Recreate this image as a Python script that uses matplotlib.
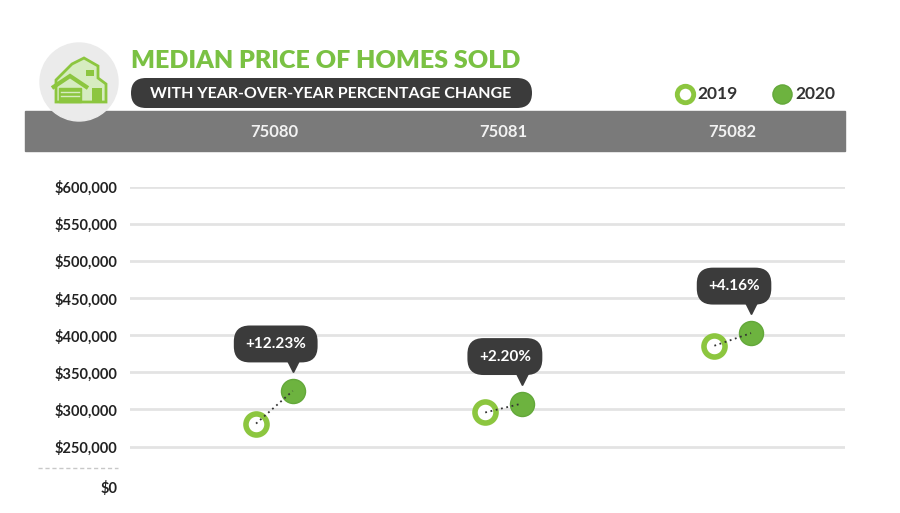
import matplotlib
matplotlib.use('Agg')
import matplotlib.pyplot as plt
import matplotlib.patches as mpatches
import matplotlib.transforms as mtrans
import numpy as np

plt.rcParams['font.family'] = ['Lato', 'DejaVu Sans']

# data
zips = ['75080', '75081', '75082']
price_2019 = [281000, 296000, 386000]
price_2020 = [325000, 308000, 403000]
changes = ['+12.23%', '+2.20%', '+4.16%']
yticks = [0, 250000, 300000, 350000, 400000, 450000, 500000, 550000, 600000]
years = ['2019', '2020']

green_title = '#7ac143'
ring_green = '#8cc63f'
fill_green = '#6db33f'
dark = '#3b3b3b'

# broken axis: everything under $250,000 squeezed
def fwd(v):
    v = np.asarray(v, dtype=float)
    return np.where(v >= 250000, v, 250000 - (250000 - v) * 0.218)

def inv(t):
    t = np.asarray(t, dtype=float)
    return np.where(t >= 250000, t, 250000 - (250000 - t) / 0.218)

fig = plt.figure(figsize=(9, 5.13), dpi=100)

# pixel overlay for header decorations
bg = fig.add_axes([0, 0, 1, 1])
bg.set_xlim(0, 900)
bg.set_ylim(513, 0)
bg.axis('off')

bg.add_patch(mpatches.Rectangle((25, 111), 820, 40, color='#7a7a7a', zorder=1))
bg.add_patch(mpatches.Circle((79, 82), 39, color='#ebebeb', zorder=2))
# little house icon
roof = [(56, 80), (72, 64), (84, 58), (98, 66), (98, 78), (106, 84), (106, 102), (56, 102)]
bg.add_patch(mpatches.Polygon(roof, closed=True, fc='#d6ecc0', ec='#8cc63f', lw=2, zorder=3))
bg.add_patch(mpatches.Polygon([(52, 88), (70, 76), (88, 88)], closed=False, fill=False,
                              ec='#8cc63f', lw=3, zorder=4))
bg.add_patch(mpatches.Rectangle((59, 88), 22, 14, fc='#8cc63f', ec='#8cc63f', zorder=4))
for yy in (92, 96):
    bg.plot([61, 79], [yy, yy], color='#d6ecc0', lw=1, zorder=5)
bg.add_patch(mpatches.Rectangle((86, 70), 8, 6, fc='#8cc63f', zorder=4))
bg.add_patch(mpatches.Rectangle((92, 88), 10, 14, fc='#8cc63f', zorder=4))

bg.text(131, 61, 'MEDIAN PRICE OF HOMES SOLD', color=green_title, fontsize=18,
        fontweight='heavy', va='center', ha='left', zorder=5)
bg.add_patch(mpatches.FancyBboxPatch((131, 78), 401, 30, boxstyle='round,pad=0,rounding_size=15',
                                     fc=dark, ec='none', zorder=4))
bg.text(331, 93.5, 'WITH YEAR-OVER-YEAR PERCENTAGE CHANGE', color='white', fontsize=11.5,
        fontweight='bold', va='center', ha='center', zorder=5)

# legend
bg.scatter([685], [94], s=140, facecolor='white', edgecolor=ring_green, linewidth=3.5, zorder=5)
bg.text(697, 94, years[0], fontsize=12.5, color='#333333', va='center', ha='left', fontweight='bold')
bg.scatter([782], [94], s=190, facecolor=fill_green, edgecolor='#63a83a', linewidth=1, zorder=5)
bg.text(795, 94, years[1], fontsize=12.5, color='#333333', va='center', ha='left', fontweight='bold')

# main chart
ax = fig.add_axes([130 / 900, 26 / 513, 715 / 900, 300 / 513])
ax.set_facecolor('none')
ax.set_yscale('function', functions=(fwd, inv))
ax.set_ylim(0, 600000)
ax.set_xlim(-0.63, 2.49)
for s in ax.spines.values():
    s.set_visible(False)

ax.set_yticks(yticks)
ax.set_yticklabels(['$' + format(v, ',') for v in yticks], fontsize=10.5,
                   fontweight='bold', color='#222222')
ax.tick_params(axis='y', length=0, pad=9)
ax.set_xticks([])
for v in yticks[1:]:
    ax.axhline(v, color='#e3e3e3', lw=2, zorder=0)
ax.plot([-0.129, -0.017], [120000, 120000], transform=ax.get_yaxis_transform(),
        color='#c8c8c8', ls=(0, (3, 2)), lw=1, clip_on=False)

xs = np.arange(len(zips))
x19 = xs - 0.08
x20 = xs + 0.08

ax.scatter(x19, price_2019, s=230, facecolor='white', edgecolor=ring_green, linewidth=4, zorder=3)
ax.scatter(x20, price_2020, s=300, facecolor=fill_green, edgecolor='#63a83a', linewidth=1, zorder=3)
for i in range(len(zips)):
    ax.plot([x19[i], x20[i]], [price_2019[i], price_2020[i]], color='#333333', ls=(0, (1, 2)),
            lw=1.3, zorder=4)

    # callout above the 2020 marker
    ax.annotate(changes[i], (x20[i], price_2020[i]), xytext=(-17, 47), textcoords='offset pixels',
                ha='center', va='center', color='white', fontsize=11, fontweight='bold', zorder=6,
                bbox=dict(boxstyle='round,pad=0.75,rounding_size=1.05', fc=dark, ec='none'))
    tri = mtrans.offset_copy(ax.transData, fig=fig, x=0, y=25, units='dots')
    ax.plot([x20[i]], [price_2020[i]], marker='v', ms=9, color=dark, transform=tri,
            zorder=5, clip_on=False)

    # header zip labels
    ax.text(xs[i], 1.183, zips[i], transform=ax.get_xaxis_transform(), ha='center', va='center',
            color='#f2f2f2', fontsize=12, fontweight='bold')

fig.savefig('out.png', dpi=100)
